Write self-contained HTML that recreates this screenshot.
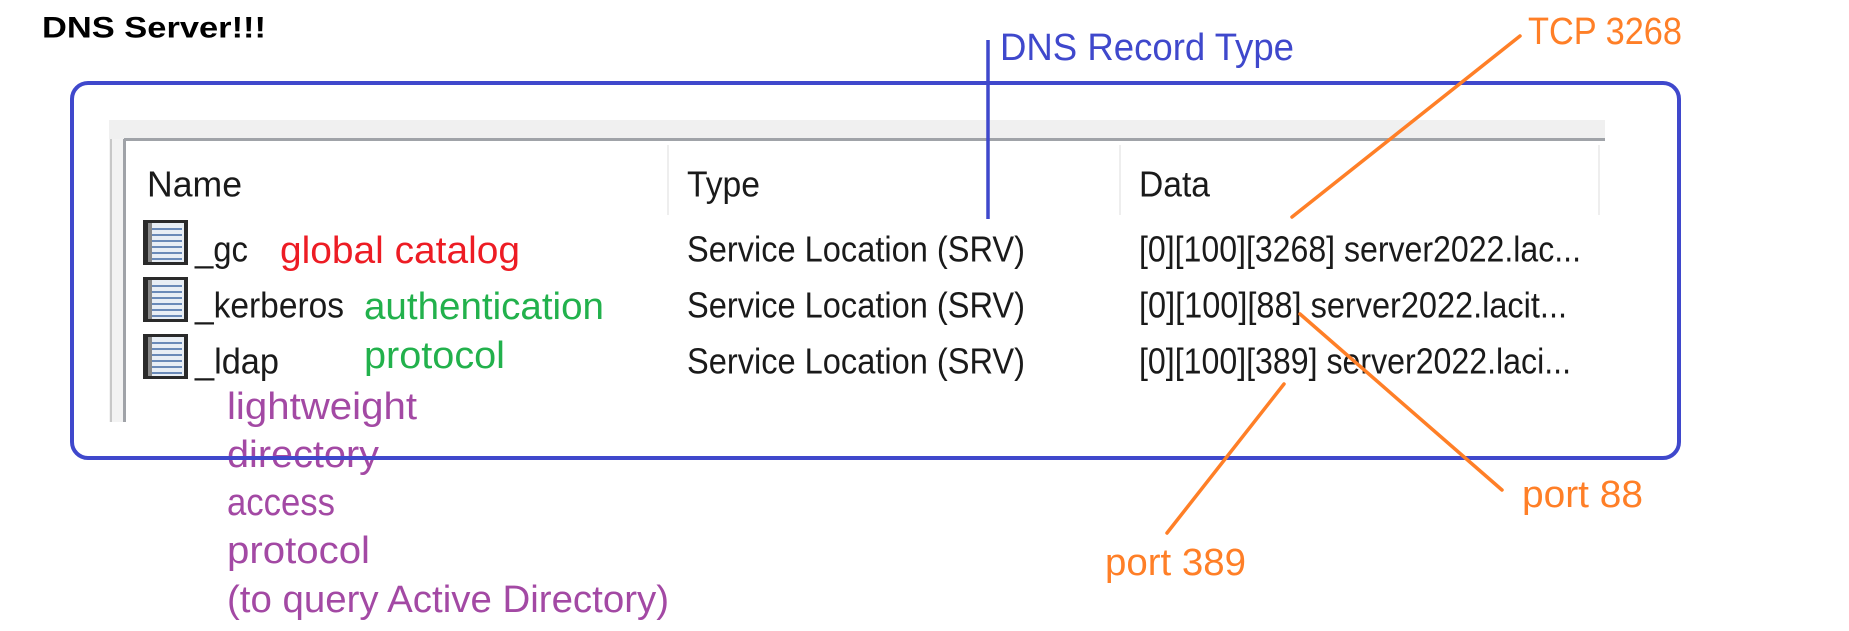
<!DOCTYPE html>
<html><head><meta charset="utf-8"><style>
html,body{margin:0;padding:0;background:#fff;width:1849px;height:631px;overflow:hidden}
svg{display:block}
text{font-family:"Liberation Sans",sans-serif}
</style></head><body>
<svg width="1849" height="631" viewBox="0 0 1849 631" xmlns="http://www.w3.org/2000/svg">
<text x="42" y="28" font-size="30" font-weight="bold" fill="#000" dominant-baseline="central" textLength="224" lengthAdjust="spacingAndGlyphs">DNS Server!!!</text>
<!-- panel -->
<rect x="109" y="120" width="1496" height="19" fill="#f0f0f0"/>
<rect x="124" y="138" width="1481" height="3" fill="#a0a3a8"/>
<rect x="109" y="139" width="15" height="283" fill="#f3f3f3"/>
<rect x="110" y="139" width="2" height="283" fill="#c8c8c8"/>
<rect x="123" y="139" width="3" height="283" fill="#a0a3a8"/>
<rect x="667" y="145" width="2" height="70" fill="#eeeeee"/>
<rect x="1119" y="145" width="2" height="70" fill="#eeeeee"/>
<rect x="1598" y="145" width="2" height="70" fill="#eeeeee"/>
<g font-size="36" fill="#1a1a1a" dominant-baseline="central">
<text x="147" y="184" textLength="95" lengthAdjust="spacingAndGlyphs">Name</text>
<text x="687" y="184" textLength="73" lengthAdjust="spacingAndGlyphs">Type</text>
<text x="1139" y="184" textLength="71" lengthAdjust="spacingAndGlyphs">Data</text>
<text x="195" y="249" textLength="53" lengthAdjust="spacingAndGlyphs">_gc</text>
<text x="195" y="305" textLength="149" lengthAdjust="spacingAndGlyphs">_kerberos</text>
<text x="195" y="361" textLength="84" lengthAdjust="spacingAndGlyphs">_ldap</text>
<text x="687" y="249" textLength="338" lengthAdjust="spacingAndGlyphs">Service Location (SRV)</text>
<text x="687" y="305" textLength="338" lengthAdjust="spacingAndGlyphs">Service Location (SRV)</text>
<text x="687" y="361" textLength="338" lengthAdjust="spacingAndGlyphs">Service Location (SRV)</text>
<text x="1139" y="249" textLength="442" lengthAdjust="spacingAndGlyphs">[0][100][3268] server2022.lac...</text>
<text x="1139" y="305" textLength="428" lengthAdjust="spacingAndGlyphs">[0][100][88] server2022.lacit...</text>
<text x="1139" y="361" textLength="432" lengthAdjust="spacingAndGlyphs">[0][100][389] server2022.laci...</text>
</g>
<!-- icons -->
<g>
<g transform="translate(142,219)"><rect x="1" y="1" width="45" height="45" fill="#2a2a2a"/><rect x="6" y="4" width="36" height="39" fill="#e8eef5"/><g stroke="#6a8ab8" stroke-width="2"><line x1="9" y1="10" x2="40" y2="10"/><line x1="9" y1="16" x2="40" y2="16"/><line x1="9" y1="22" x2="40" y2="22"/><line x1="9" y1="28" x2="40" y2="28"/><line x1="9" y1="34" x2="40" y2="34"/><line x1="9" y1="40" x2="40" y2="40"/></g><rect x="6" y="4" width="4" height="39" fill="#888"/></g>
<g transform="translate(142,276)"><rect x="1" y="1" width="45" height="45" fill="#2a2a2a"/><rect x="6" y="4" width="36" height="39" fill="#e8eef5"/><g stroke="#6a8ab8" stroke-width="2"><line x1="9" y1="10" x2="40" y2="10"/><line x1="9" y1="16" x2="40" y2="16"/><line x1="9" y1="22" x2="40" y2="22"/><line x1="9" y1="28" x2="40" y2="28"/><line x1="9" y1="34" x2="40" y2="34"/><line x1="9" y1="40" x2="40" y2="40"/></g><rect x="6" y="4" width="4" height="39" fill="#888"/></g>
<g transform="translate(142,333)"><rect x="1" y="1" width="45" height="45" fill="#2a2a2a"/><rect x="6" y="4" width="36" height="39" fill="#e8eef5"/><g stroke="#6a8ab8" stroke-width="2"><line x1="9" y1="10" x2="40" y2="10"/><line x1="9" y1="16" x2="40" y2="16"/><line x1="9" y1="22" x2="40" y2="22"/><line x1="9" y1="28" x2="40" y2="28"/><line x1="9" y1="34" x2="40" y2="34"/><line x1="9" y1="40" x2="40" y2="40"/></g><rect x="6" y="4" width="4" height="39" fill="#888"/></g>
</g>
<!-- annotations -->
<g font-size="38" dominant-baseline="central">
<text x="280" y="251" fill="#ED1C24" textLength="240" lengthAdjust="spacingAndGlyphs">global catalog</text>
<text x="364" y="307" fill="#22B14C" textLength="240" lengthAdjust="spacingAndGlyphs">authentication</text>
<text x="364" y="356" fill="#22B14C" textLength="141" lengthAdjust="spacingAndGlyphs">protocol</text>
<g fill="#A349A4">
<text x="227" y="407" textLength="190" lengthAdjust="spacingAndGlyphs">lightweight</text>
<text x="227" y="455" textLength="152" lengthAdjust="spacingAndGlyphs">directory</text>
<text x="227" y="503" textLength="108" lengthAdjust="spacingAndGlyphs">access</text>
<text x="227" y="551" textLength="143" lengthAdjust="spacingAndGlyphs">protocol</text>
<text x="227" y="600" textLength="442" lengthAdjust="spacingAndGlyphs">(to query Active Directory)</text>
</g>
<text x="1000" y="48" fill="#3F48CC" textLength="294" lengthAdjust="spacingAndGlyphs">DNS Record Type</text>
<text x="1528" y="32" fill="#FF7F27" textLength="154" lengthAdjust="spacingAndGlyphs">TCP 3268</text>
<text x="1522" y="495" fill="#FF7F27" textLength="121" lengthAdjust="spacingAndGlyphs">port 88</text>
<text x="1105" y="563" fill="#FF7F27" textLength="141" lengthAdjust="spacingAndGlyphs">port 389</text>
</g>
<!-- box -->
<rect x="72" y="83" width="1607" height="375" rx="16" fill="none" stroke="#3F48CC" stroke-width="4"/>
<line x1="988" y1="40" x2="988" y2="219" stroke="#3F48CC" stroke-width="3.5"/>
<g stroke="#FF7F27" stroke-width="3.5" stroke-linecap="round">
<line x1="1520" y1="36" x2="1292" y2="217"/>
<line x1="1300" y1="314" x2="1502" y2="490"/>
<line x1="1284" y1="384" x2="1167" y2="533"/>
</g>
</svg>
</body></html>
